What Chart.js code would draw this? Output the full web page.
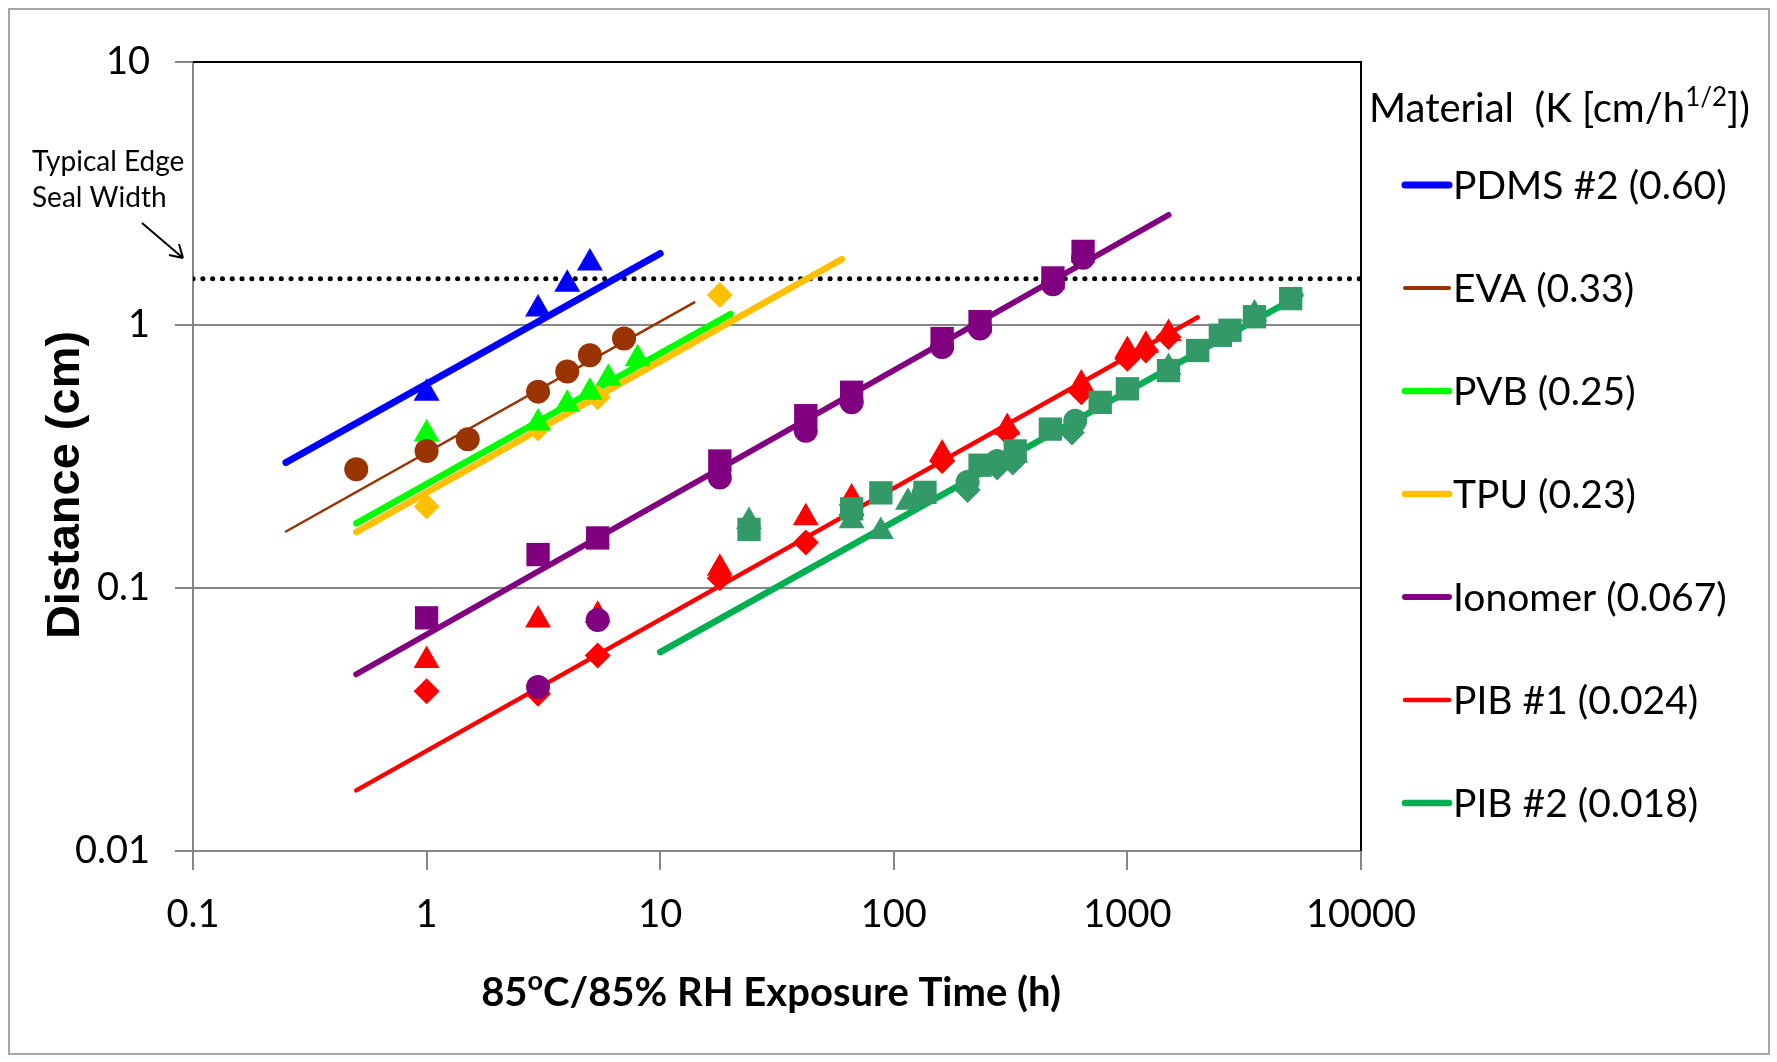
<!DOCTYPE html>
<html>
<head>
<meta charset="utf-8">
<script src="https://cdn.jsdelivr.net/npm/chart.js@4.4.1/dist/chart.umd.min.js"></script>
<style>
  body { margin: 0; background: #fff; }
  #wrap { width: 1777px; height: 1062px; }
</style>
</head>
<body>
<div id="wrap"><canvas id="diffusionChart" width="1777" height="1062"></canvas></div>
<script>
// axis ticks (log decades)
const xTicks = [0.1, 1, 10, 100, 1000, 10000];
const yTicks = [0.01, 0.1, 1, 10];

// legend labels, K in cm/h^1/2
const materials = ["PDMS #2 (0.60)", "EVA (0.33)", "PVB (0.25)", "TPU (0.23)",
  "Ionomer (0.067)", "PIB #1 (0.024)", "PIB #2 (0.018)"];

// fitted lines, end points (time h, distance cm)
const pdmsFitT = [0.25, 10];    const pdmsFitD = [0.30, 1.87];
const evaFitT = [0.25, 14];     const evaFitD = [0.164, 1.22];
const pvbFitT = [0.5, 20];      const pvbFitD = [0.176, 1.10];
const tpuFitT = [0.5, 60];      const tpuFitD = [0.163, 1.78];
const ionoFitT = [0.5, 1500];   const ionoFitD = [0.047, 2.62];
const pib1FitT = [0.5, 2000];   const pib1FitD = [0.017, 1.07];
const pib2FitT = [10, 5500];    const pib2FitD = [0.057, 1.30];

// typical edge seal width
const sealT = [0.1, 10000];
const sealD = [1.5, 1.5];

// measured points
const pdmsTriT = [1, 3, 4, 5];
const pdmsTriD = [0.55, 1.15, 1.43, 1.72];
const evaDotT = [0.5, 1, 1.5, 3, 4, 5, 7];
const evaDotD = [0.283, 0.332, 0.368, 0.558, 0.666, 0.767, 0.888];
const pvbTriT = [1, 3, 4, 5, 6, 8];
const pvbTriD = [0.385, 0.424, 0.50, 0.555, 0.628, 0.744];
const tpuDiaT = [1, 3, 5.4, 18];
const tpuDiaD = [0.204, 0.404, 0.531, 1.30];
const ionoSqT = [1, 3, 5.4, 18, 42, 66, 161, 234, 480, 646];
const ionoSqD = [0.077, 0.134, 0.155, 0.304, 0.452, 0.555, 0.888, 1.03, 1.51, 1.905];
const ionoDotT = [3, 5.4, 18, 42, 66, 161, 234, 480, 646];
const ionoDotD = [0.042, 0.0755, 0.263, 0.396, 0.508, 0.825, 0.97, 1.43, 1.80];
const pib1TriT = [1, 3, 5.4, 18, 42, 66, 161, 306, 635, 1000, 1200, 1500];
const pib1TriD = [0.053, 0.0755, 0.0788, 0.119, 0.185, 0.22, 0.323, 0.408, 0.597, 0.80, 0.837, 0.928];
const pib1DiaT = [1, 3, 5.4, 18, 42, 66, 161, 306, 635, 1000, 1200, 1500];
const pib1DiaD = [0.0405, 0.0396, 0.0554, 0.109, 0.149, 0.19, 0.304, 0.39, 0.555, 0.744, 0.80, 0.90];
const pib2SqT = [24, 66, 88, 136, 234, 331, 468, 765, 1000, 1500, 2000, 2500, 2750, 3500, 5000];
const pib2SqD = [0.167, 0.20, 0.230, 0.231, 0.293, 0.332, 0.402, 0.508, 0.572, 0.671, 0.80, 0.914, 0.955, 1.075, 1.26];
const pib2TriT = [24, 66, 88, 115, 331, 1500, 3500];
const pib2TriD = [0.179, 0.18, 0.164, 0.212, 0.32, 0.69, 1.10];
const pib2DotT = [134, 207, 277, 323, 598];
const pib2DotD = [0.228, 0.253, 0.304, 0.31, 0.432];
const pib2DiaT = [207, 277, 323, 579];
const pib2DiaD = [0.236, 0.287, 0.30, 0.39];

const pts = (t, d) => t.map((x, i) => ({ x: x, y: d[i] }));

function fit(label, t, d, color, width) {
  return { label: label, data: pts(t, d), showLine: true, borderColor: color, backgroundColor: color,
    borderWidth: width, borderCapStyle: "round", pointRadius: 0, order: 2, isFit: true };
}
function marks(t, d, color, style, r) {
  return { data: pts(t, d), showLine: false, pointStyle: style, pointRadius: r, pointHoverRadius: r,
    backgroundColor: color, borderColor: color, borderWidth: 0, order: 1 };
}

const datasets = [
  fit(materials[0], pdmsFitT, pdmsFitD, "#0000FF", 7),
  fit(materials[1], evaFitT, evaFitD, "#993300", 2.5),
  fit(materials[2], pvbFitT, pvbFitD, "#00FF00", 6.5),
  fit(materials[3], tpuFitT, tpuFitD, "#FFC000", 6.5),
  fit(materials[4], ionoFitT, ionoFitD, "#800080", 6),
  fit(materials[5], pib1FitT, pib1FitD, "#FF0000", 4.5),
  fit(materials[6], pib2FitT, pib2FitD, "#00B050", 6.5),
  { data: pts(sealT, sealD), showLine: true, borderColor: "#000", borderWidth: 5,
    borderDash: [0.1, 9.7], borderCapStyle: "round", pointRadius: 0, order: 3 },
  marks(pdmsTriT, pdmsTriD, "#0000FF", "triangle", 15),
  marks(evaDotT, evaDotD, "#993300", "circle", 12),
  marks(pvbTriT, pvbTriD, "#00FF00", "triangle", 15),
  marks(tpuDiaT, tpuDiaD, "#FFC000", "rectRot", 13),
  marks(ionoDotT, ionoDotD, "#800080", "circle", 12),
  marks(ionoSqT, ionoSqD, "#800080", "rect", 16.5),
  marks(pib2SqT, pib2SqD, "#339966", "rect", 16.5),
  marks(pib2DotT, pib2DotD, "#339966", "circle", 12),
  marks(pib2DiaT, pib2DiaD, "#339966", "rectRot", 13),
  marks(pib2TriT, pib2TriD, "#339966", "triangle", 15),
  marks(pib1DiaT, pib1DiaD, "#FF0000", "rectRot", 13),
  marks(pib1TriT, pib1TriD, "#FF0000", "triangle", 15)
];

// text with a raised part, e.g. 85 ^o C
function drawRich(ctx, parts, x, y, font, supFont, align) {
  let w = 0;
  parts.forEach(p => { ctx.font = p.sup ? supFont : font; w += ctx.measureText(p.t).width; });
  let cx = align === "center" ? x - w / 2 : x;
  ctx.textAlign = "left";
  ctx.textBaseline = "alphabetic";
  parts.forEach(p => {
    ctx.font = p.sup ? supFont : font;
    ctx.fillText(p.t, cx, p.sup ? y - 16 : y);
    cx += ctx.measureText(p.t).width;
  });
}

const decor = {
  id: "decor",
  beforeDraw(chart) {
    const ctx = chart.ctx;
    ctx.save();
    ctx.fillStyle = "#fff";
    ctx.fillRect(0, 0, chart.width, chart.height);
    ctx.strokeStyle = "#A6A6A6";
    ctx.lineWidth = 2;
    ctx.strokeRect(9, 9, 1760, 1045);
    ctx.restore();
  },
  beforeDatasetsDraw(chart) {
    const ctx = chart.ctx, a = chart.chartArea;
    ctx.save();
    ctx.strokeStyle = "#000";
    ctx.lineWidth = 2;
    ctx.beginPath();
    ctx.moveTo(a.left, a.top);
    ctx.lineTo(a.right, a.top);
    ctx.lineTo(a.right, a.bottom);
    ctx.stroke();
    ctx.restore();
  },
  afterDraw(chart) {
    const ctx = chart.ctx, a = chart.chartArea;
    ctx.save();
    ctx.fillStyle = "#000";

    // legend
    drawRich(ctx, [{ t: "Material  (K [cm/h" }, { t: "1/2", sup: true }, { t: "])" }],
      a.right + 8, 122, "40px Lato", "26px Lato", "left");
    chart.data.datasets.filter(d => d.isFit).forEach((d, i) => {
      const y = 185 + i * 103;
      ctx.strokeStyle = d.borderColor;
      ctx.lineWidth = Math.max(d.borderWidth, 4);
      ctx.lineCap = "round";
      ctx.beginPath();
      ctx.moveTo(a.right + 44, y);
      ctx.lineTo(a.right + 88, y);
      ctx.stroke();
      ctx.font = "39px Lato";
      ctx.textAlign = "left";
      ctx.textBaseline = "middle";
      ctx.fillText(d.label, a.right + 92, y + 1);
    });

    // axis titles
    drawRich(ctx, [{ t: "85" }, { t: "o", sup: true }, { t: "C/85% RH Exposure Time (h)" }],
      (a.left + a.right) / 2 - 6, 1006, "bold 40px Lato", "bold 27px Lato", "center");
    ctx.save();
    ctx.translate(66, 485);
    ctx.rotate(-Math.PI / 2);
    ctx.font = "bold 47px 'Liberation Sans'";
    ctx.textAlign = "center";
    ctx.textBaseline = "middle";
    ctx.fillText("Distance (cm)", 0, 0);
    ctx.restore();

    // edge seal note + arrow
    ctx.font = "28px Lato";
    ctx.textAlign = "left";
    ctx.textBaseline = "middle";
    ctx.fillText("Typical Edge", 32, 162);
    ctx.fillText("Seal Width", 32, 198);
    ctx.strokeStyle = "#000";
    ctx.lineWidth = 2;
    ctx.lineCap = "butt";
    ctx.beginPath();
    ctx.moveTo(142, 223);
    ctx.lineTo(183, 258);
    ctx.moveTo(183, 258);
    ctx.lineTo(169, 255);
    ctx.moveTo(183, 258);
    ctx.lineTo(179, 244);
    ctx.stroke();
    ctx.restore();
  }
};

new Chart(document.getElementById("diffusionChart"), {
  type: "scatter",
  data: { datasets: datasets },
  options: {
    responsive: false,
    animation: false,
    devicePixelRatio: 1,
    layout: { padding: { left: 0, top: 62, right: 416, bottom: 0 } },
    plugins: { legend: { display: false }, tooltip: { enabled: false } },
    scales: {
      x: {
        type: "logarithmic",
        min: 0.1,
        max: 10000,
        afterBuildTicks: s => { s.ticks = xTicks.map(v => ({ value: v })); },
        afterFit: s => { s.height = 211; },
        grid: { drawOnChartArea: false, drawTicks: true, tickLength: 19, color: "#868686", lineWidth: 2 },
        border: { color: "#868686", width: 2 },
        ticks: { color: "#000", font: { family: "Lato", size: 38 }, padding: 22, maxRotation: 0,
          callback: v => String(v) }
      },
      y: {
        type: "logarithmic",
        min: 0.01,
        max: 10,
        afterBuildTicks: s => { s.ticks = yTicks.map(v => ({ value: v })); },
        afterFit: s => { s.width = 193; },
        grid: { color: "#868686", lineWidth: 2, tickLength: 18 },
        border: { color: "#868686", width: 2 },
        ticks: { color: "#000", font: { family: "Lato", size: 38 }, padding: 25,
          callback: v => String(v) }
      }
    }
  },
  plugins: [decor]
});
</script>
</body>
</html>
